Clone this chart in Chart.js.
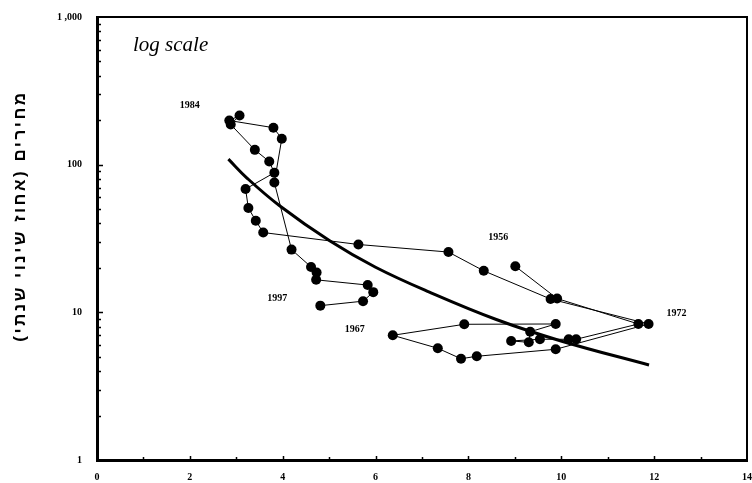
<!DOCTYPE html>
<html lang="he">
<head>
<meta charset="utf-8">
<script src="https://cdn.jsdelivr.net/npm/chart.js@4"></script>
<style>
  html, body { margin: 0; padding: 0; background: #fff; overflow: hidden; }
  #wrap { width: 752px; height: 483px; }
</style>
</head>
<body>
<div id="wrap"><canvas id="chart" width="752" height="483"></canvas></div>
<script>
// Path of yearly observations
let years = [1956, 1957, 1958, 1959, 1960, 1961, 1962, 1963, 1964, 1965,
             1966, 1967, 1968, 1969, 1970, 1971, 1972, 1973, 1974, 1975,
             1976, 1977, 1978, 1979, 1980, 1981, 1982, 1983, 1984, 1985,
             1986, 1987, 1988, 1989, 1990, 1991, 1992, 1993, 1994, 1995,
             1996, 1997];
let xValues = [9.01, 9.91, 11.66, 10.32, 10.16, 9.54, 8.92, 9.30, 9.33, 9.88,
               7.91, 6.37, 7.34, 7.84, 8.18, 9.88, 11.88, 9.77, 8.33, 7.57,
               5.63, 3.58, 3.42, 3.26, 3.20, 3.82, 3.71, 3.40, 2.88, 3.07,
               2.85, 3.80, 3.98, 3.82, 4.19, 4.61, 4.73, 4.72, 5.83, 5.95,
               5.73, 4.81];
let priceChange = [20.5, 12.4, 8.34, 6.57, 6.57, 6.57, 6.40, 6.27, 7.39, 8.34,
                   8.30, 6.99, 5.71, 4.85, 5.04, 5.62, 8.34, 12.3, 19.1, 25.6,
                   28.8, 34.7, 41.7, 50.9, 68.4, 88.2, 105, 126, 187, 215,
                   199, 178, 150, 75.7, 26.6, 20.3, 18.6, 16.6, 15.3, 13.7,
                   11.9, 11.1];

// Fitted trend line
let trendX = [2.83, 3.23, 3.94, 5.02, 6.0, 7.16, 8.6, 10.03, 11.89];
let trendY = [109, 81.2, 52.5, 30.4, 20.2, 13.7, 8.94, 6.35, 4.40];

// Axis ticks
let yTicks = [1, 10, 100, 1000];
let labelYears = [1956, 1967, 1972, 1984, 1997];

// Label offsets in pixels (style only)
let labelOffsets = {1956: [-17, -29], 1967: [-38, -6], 1972: [28, -11], 1984: [-41, -19], 1997: [-43, -7]};

let pathData = years.map((yr, i) => ({x: xValues[i], y: priceChange[i]}));
let trendData = trendX.map((x, i) => ({x: x, y: trendY[i]}));

let decorations = {
  id: 'decorations',
  afterDraw(chart) {
    let ctx = chart.ctx, a = chart.chartArea;
    let xs = chart.scales.x, ys = chart.scales.y;
    ctx.save();
    ctx.strokeStyle = '#000';
    // top and right frame
    ctx.lineWidth = 2;
    ctx.beginPath();
    ctx.moveTo(a.left, a.top);
    ctx.lineTo(a.right, a.top);
    ctx.lineTo(a.right, a.bottom);
    ctx.stroke();
    // inward ticks on y
    ctx.lineWidth = 1.5;
    ctx.beginPath();
    for (let d = 1; d < 1000; d *= 10) {
      for (let m = 1; m <= 9; m++) {
        let py = Math.round(ys.getPixelForValue(d * m)) + 0.5;
        let len = m == 1 ? 6 : 4;
        ctx.moveTo(a.left, py);
        ctx.lineTo(a.left + len, py);
      }
    }
    // inward ticks on x
    for (let v = 1; v < 14; v++) {
      let px = Math.round(xs.getPixelForValue(v)) + 0.5;
      let len = v % 2 == 0 ? 4 : 3;
      ctx.moveTo(px, a.bottom);
      ctx.lineTo(px, a.bottom - len);
    }
    ctx.stroke();

    // year labels
    ctx.fillStyle = '#000';
    ctx.font = 'bold 10px "Liberation Serif", serif';
    ctx.textAlign = 'center';
    ctx.textBaseline = 'middle';
    let meta = chart.getDatasetMeta(1);
    labelYears.forEach(yr => {
      let pt = meta.data[years.indexOf(yr)];
      let off = labelOffsets[yr];
      ctx.fillText(String(yr), pt.x + off[0], pt.y + off[1]);
    });

    // note
    ctx.font = 'italic 21px "Liberation Serif", serif';
    ctx.textAlign = 'left';
    ctx.fillText('log scale', a.left + 36, a.top + 28);

    // y axis title
    ctx.translate(20, 216);
    ctx.rotate(-Math.PI / 2);
    ctx.direction = 'rtl';
    ctx.textAlign = 'center';
    ctx.font = 'bold 17px "Liberation Sans", "DejaVu Sans", sans-serif';
    ctx.letterSpacing = '2.5px';
    ctx.fillText('מחירים (אחוז שינוי שנתי)', 0, 0);
    ctx.restore();
  }
};

let tickFont = {family: '"Liberation Serif", serif', size: 10, weight: 'bold'};

new Chart(document.getElementById('chart'), {
  type: 'scatter',
  data: {
    datasets: [{
      label: 'trend',
      data: trendData,
      showLine: true,
      borderColor: '#000',
      borderWidth: 3,
      pointRadius: 0,
      tension: 0.4,
    }, {
      label: 'prices',
      data: pathData,
      showLine: true,
      borderColor: '#000',
      borderWidth: 1,
      backgroundColor: '#000',
      pointRadius: 5,
      pointBorderWidth: 0,
    }],
  },
  options: {
    responsive: false,
    animation: false,
    layout: {padding: {top: 17, right: 4, left: 0, bottom: 0}},
    plugins: {
      legend: {display: false},
      tooltip: {enabled: false},
    },
    scales: {
      x: {
        type: 'linear',
        min: 0,
        max: 14,
        ticks: {stepSize: 2, color: '#000', font: tickFont, padding: 11, maxRotation: 0},
        grid: {display: false, drawTicks: false},
        border: {display: true, color: '#000', width: 3},
        afterFit(scale) {
          scale.height = 23;
          scale.paddingRight = 0;
          scale.paddingLeft = 0;
        },
      },
      y: {
        type: 'logarithmic',
        min: 1,
        max: 1000,
        afterBuildTicks(scale) {
          scale.ticks = yTicks.map(v => ({value: v}));
        },
        ticks: {
          color: '#000',
          font: tickFont,
          padding: 15,
          callback: v => v == 1000 ? '1 ,000' : String(v),
        },
        grid: {display: false, drawTicks: false},
        border: {display: true, color: '#000', width: 3},
        afterFit(scale) {
          scale.width = 97;
          scale.paddingTop = 0;
          scale.paddingBottom = 0;
        },
      },
    },
  },
  plugins: [decorations],
});
</script>
</body>
</html>
